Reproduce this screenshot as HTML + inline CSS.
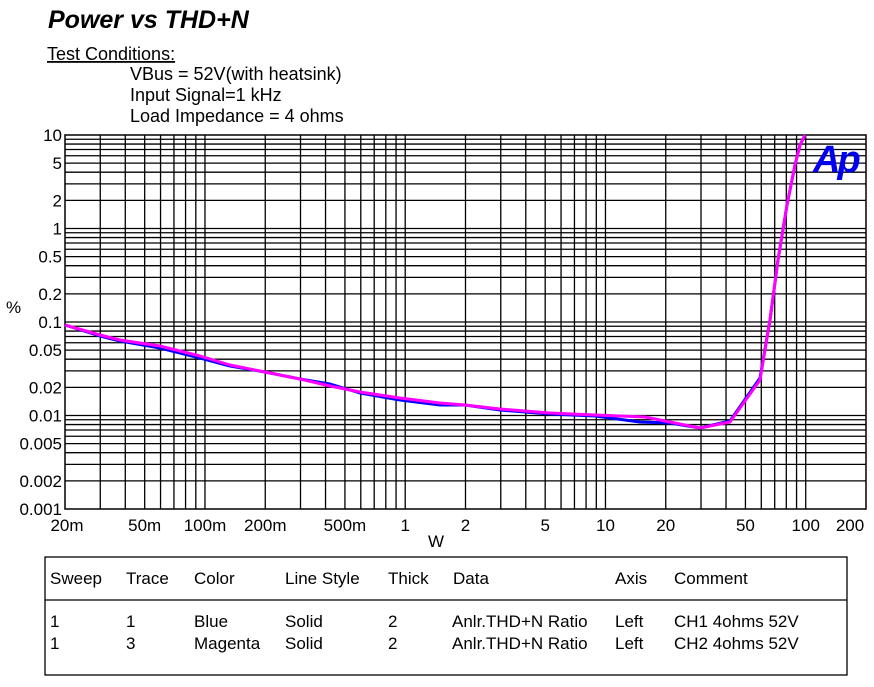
<!DOCTYPE html>
<html><head><meta charset="utf-8"><style>
body{margin:0;background:#fff;}
svg text{font-family:"Liberation Sans",Arial,sans-serif;}
</style></head><body>
<svg width="874" height="682" xmlns="http://www.w3.org/2000/svg">
<text x="48" y="28" font-size="25" font-weight="bold" font-style="italic">Power vs THD+N</text>
<text x="47" y="60" font-size="18" text-decoration="underline">Test Conditions:</text>
<text x="130" y="80" font-size="18">VBus = 52V(with heatsink)</text>
<text x="130" y="101" font-size="18">Input Signal=1 kHz</text>
<text x="130" y="122" font-size="18">Load Impedance = 4 ohms</text>
<g id="grid" stroke="#000" stroke-width="1.3"></g>
<rect x="65" y="135" width="801" height="374" fill="none" stroke="#000" stroke-width="1.5"/>
<g id="ylab" font-size="17" text-anchor="end"></g>
<g id="xlab" font-size="17" text-anchor="middle"></g>
<text x="6" y="313" font-size="17">%</text>
<text x="436" y="547" font-size="17" text-anchor="middle">W</text>
<polyline fill="none" stroke="#0000ff" stroke-width="3" stroke-linejoin="round" points="65,325 100,336 120,341 160,348 200,358 230,366 265,372 300,379 330,384 360,393 400,400 440,405 465,405 500,410 550,414 595,416 640,422 670,423 700,428 730,421 760,378 770,320 778,260 787,205 795,165 800,145 805,135"/>
<polyline fill="none" stroke="#ff00ff" stroke-width="3" stroke-linejoin="round" points="65,325 100,335 120,340 160,346 200,356 230,365 265,372 300,379 330,386 360,392 400,398 440,403 465,405 500,409 550,413 595,415 645,417 670,422 700,428 730,422 760,380 770,320 778,260 787,205 795,165 800,145 805,135"/>
<text x="813" y="172" font-size="38" font-weight="bold" font-style="italic" fill="#0000ee" letter-spacing="-3">Ap</text>
<rect x="45" y="557" width="802" height="118" fill="none" stroke="#000" stroke-width="1.3"/>
<line x1="45" y1="600" x2="847" y2="600" stroke="#000" stroke-width="1.3"/>
<g font-size="17">
<text x="50" y="584">Sweep</text><text x="126" y="584">Trace</text><text x="194" y="584">Color</text><text x="285" y="584">Line Style</text><text x="388" y="584">Thick</text><text x="453" y="584">Data</text><text x="615" y="584">Axis</text><text x="674" y="584">Comment</text>
<text x="50" y="627">1</text><text x="126" y="627">1</text><text x="194" y="627">Blue</text><text x="285" y="627">Solid</text><text x="388" y="627">2</text><text x="452" y="627">Anlr.THD+N Ratio</text><text x="615" y="627">Left</text><text x="674" y="627">CH1 4ohms 52V</text>
<text x="50" y="649">1</text><text x="126" y="649">3</text><text x="194" y="649">Magenta</text><text x="285" y="649">Solid</text><text x="388" y="649">2</text><text x="452" y="649">Anlr.THD+N Ratio</text><text x="615" y="649">Left</text><text x="674" y="649">CH2 4ohms 52V</text>
</g>
</svg>
<script>
var ns="http://www.w3.org/2000/svg";
function X(w){return 65+200.25*Math.log10(w/0.02);}
function Y(p){return 135+93.5*Math.log10(10/p);}
var g=document.getElementById('grid');
function ln(x1,y1,x2,y2){var l=document.createElementNS(ns,'line');l.setAttribute('x1',x1);l.setAttribute('y1',y1);l.setAttribute('x2',x2);l.setAttribute('y2',y2);g.appendChild(l);}
[0.01,0.1,1,10,100].forEach(function(d){for(var i=1;i<10;i++){var w=d*i;if(w>0.02+1e-9&&w<200-1e-6){var x=X(w);ln(x,135,x,509);}}});
[0.001,0.01,0.1,1].forEach(function(d){for(var i=1;i<10;i++){var p=d*i;if(p>0.001+1e-9){var y=Y(p);ln(65,y,866,y);}}});
var yl=document.getElementById('ylab');
[["10",10],["5",5],["2",2],["1",1],["0.5",0.5],["0.2",0.2],["0.1",0.1],["0.05",0.05],["0.02",0.02],["0.01",0.01],["0.005",0.005],["0.002",0.002],["0.001",0.001]].forEach(function(a){var t=document.createElementNS(ns,'text');t.setAttribute('x',62);t.setAttribute('y',Y(a[1])+6);t.textContent=a[0];yl.appendChild(t);});
var xl=document.getElementById('xlab');
[["20m",0.02],["50m",0.05],["100m",0.1],["200m",0.2],["500m",0.5],["1",1],["2",2],["5",5],["10",10],["20",20],["50",50],["100",100],["200",200]].forEach(function(a){var t=document.createElementNS(ns,'text');var x=X(a[1]);if(a[0]=="20m")x=67;if(a[0]=="200")x=850;t.setAttribute('x',x);t.setAttribute('y',531);t.textContent=a[0];xl.appendChild(t);});
</script>
</body></html>
